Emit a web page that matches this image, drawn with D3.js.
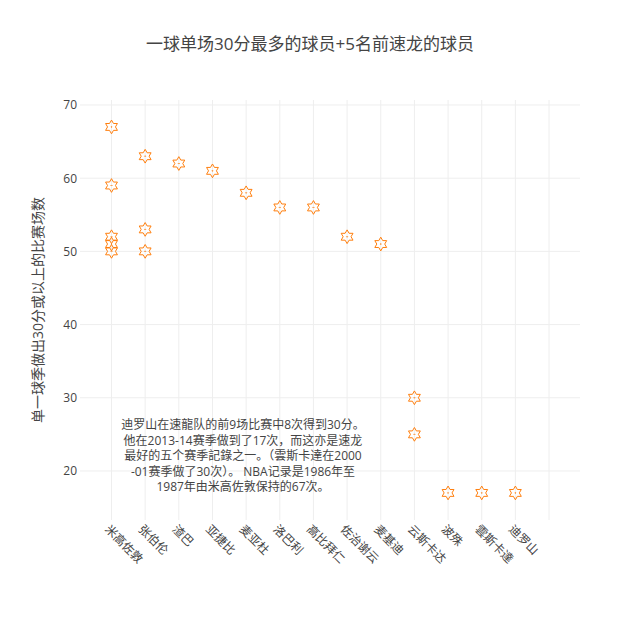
<!DOCTYPE html>
<html>
<head>
<meta charset="utf-8">
<script src="https://cdn.jsdelivr.net/npm/d3@7/dist/d3.min.js"></script>
<style>
  html, body { margin: 0; padding: 0; background: #fff; }
  text { font-family: "Open Sans", "Noto Sans CJK SC", sans-serif; fill: #444; }
</style>
</head>
<body>
<svg id="chart" width="620" height="620"></svg>
<script>
// ---- data ----
const categories = ["米高佐敦", "张伯伦", "渣巴", "亚捷比", "麦亚杜", "洛巴利", "高比拜仁", "佐治谢云", "麦基迪", "云斯卡达", "波殊", "雲斯卡達", "迪罗山", ""];
const pointCategories = ["米高佐敦", "米高佐敦", "米高佐敦", "米高佐敦", "米高佐敦",
  "张伯伦", "张伯伦", "张伯伦", "渣巴", "亚捷比", "麦亚杜", "洛巴利", "高比拜仁",
  "佐治谢云", "麦基迪", "云斯卡达", "云斯卡达", "波殊", "雲斯卡達", "迪罗山"];
const pointValues = [67, 59, 52, 51, 50,
  63, 53, 50, 62, 61, 58, 56, 56,
  52, 51, 30, 25, 17, 17, 17];
const yTicks = [20, 30, 40, 50, 60, 70];
const titleText = "一球单场30分最多的球员+5名前速龙的球员";
const yTitle = "单一球季做出30分或以上的比赛场数";
const noteLines = [
  "迪罗山在速龍队的前9场比赛中8次得到30分。",
  "他在2013-14赛季做到了17次，而这亦是速龙",
  "最好的五个赛季記錄之一。（雲斯卡達在2000",
  "-01赛季做了30次）。 NBA记录是1986年至",
  "1987年由米高佐敦保持的67次。"
];

// ---- layout ----
const W = 620, H = 620;
const margin = {l: 80, r: 40, t: 100, b: 100};
const svg = d3.select("#chart");

const xIdx = d3.scaleLinear().domain([-0.936, 13.92]).range([margin.l, W - margin.r]);
const x = c => xIdx(categories.indexOf(c));
const y = d3.scaleLinear().domain([13.3, 70.68]).range([H - margin.b, margin.t]);

// gridlines
const grid = svg.append("g");
grid.selectAll("line.v").data(categories).enter().append("line")
  .attr("x1", d => x(d)).attr("x2", d => x(d))
  .attr("y1", margin.t).attr("y2", H - margin.b)
  .attr("stroke", "#eee").attr("stroke-width", 1);
grid.selectAll("line.h").data(yTicks).enter().append("line")
  .attr("x1", margin.l).attr("x2", W - margin.r)
  .attr("y1", d => y(d)).attr("y2", d => y(d))
  .attr("stroke", "#eee").attr("stroke-width", 1);

// y axis labels
const yAxis = d3.axisLeft(y).tickValues(yTicks).tickSize(0).tickPadding(3);
const yg = svg.append("g").attr("transform", `translate(${margin.l},0)`).call(yAxis);
yg.select(".domain").remove();
yg.selectAll("text").style("font-size", "12px").style("fill", "#444")
  .style("font-family", '"Open Sans", "Noto Sans CJK SC", sans-serif');

// x axis labels (rotated 45)
svg.append("g").selectAll("text").data(categories.filter(c => c !== "")).enter().append("text")
  .attr("transform", d => `translate(${x(d) - 4.4},${527}) rotate(45)`)
  .attr("dy", "0.35em")
  .attr("text-anchor", "start")
  .style("font-size", "12px")
  .text(d => d);

// markers: hexagram-dot-open
function hexagram(r) {
  const yy = r * 0.66, x1 = r * 0.38, x2 = r * 0.76;
  return `M-${x2},0l-${x1},-${yy}h${x2}l${x1},-${yy}l${x1},${yy}h${x2}` +
    `l-${x1},${yy}l${x1},${yy}h-${x2}l-${x1},${yy}l-${x1},-${yy}h-${x2}Z` +
    `M0,0.5L0.5,0L0,-0.5L-0.5,0Z`;
}
const pts = pointValues.map((v, i) => ({c: pointCategories[i], v}));
svg.append("g").selectAll("path").data(pts).enter().append("path")
  .attr("transform", d => `translate(${x(d.c)},${y(d.v)})`)
  .attr("d", hexagram(5.2))
  .attr("fill", "none")
  .attr("stroke", "#ff7f0e")
  .attr("stroke-width", 1);

// title
svg.append("text")
  .attr("x", W / 2).attr("y", 50)
  .attr("text-anchor", "middle")
  .style("font-size", "17px")
  .text(titleText);

// y title
svg.append("text")
  .attr("transform", `translate(38,${(margin.t + H - margin.b) / 2}) rotate(-90)`)
  .attr("text-anchor", "middle")
  .attr("dy", "0.35em")
  .style("font-size", "14px")
  .text(yTitle);

// annotation
const note = svg.append("text")
  .attr("text-anchor", "middle")
  .style("font-size", "12px");
noteLines.forEach((line, i) => {
  note.append("tspan")
    .attr("x", 243)
    .attr("y", 429 + i * 15.5)
    .text(line);
});
</script>
</body>
</html>
